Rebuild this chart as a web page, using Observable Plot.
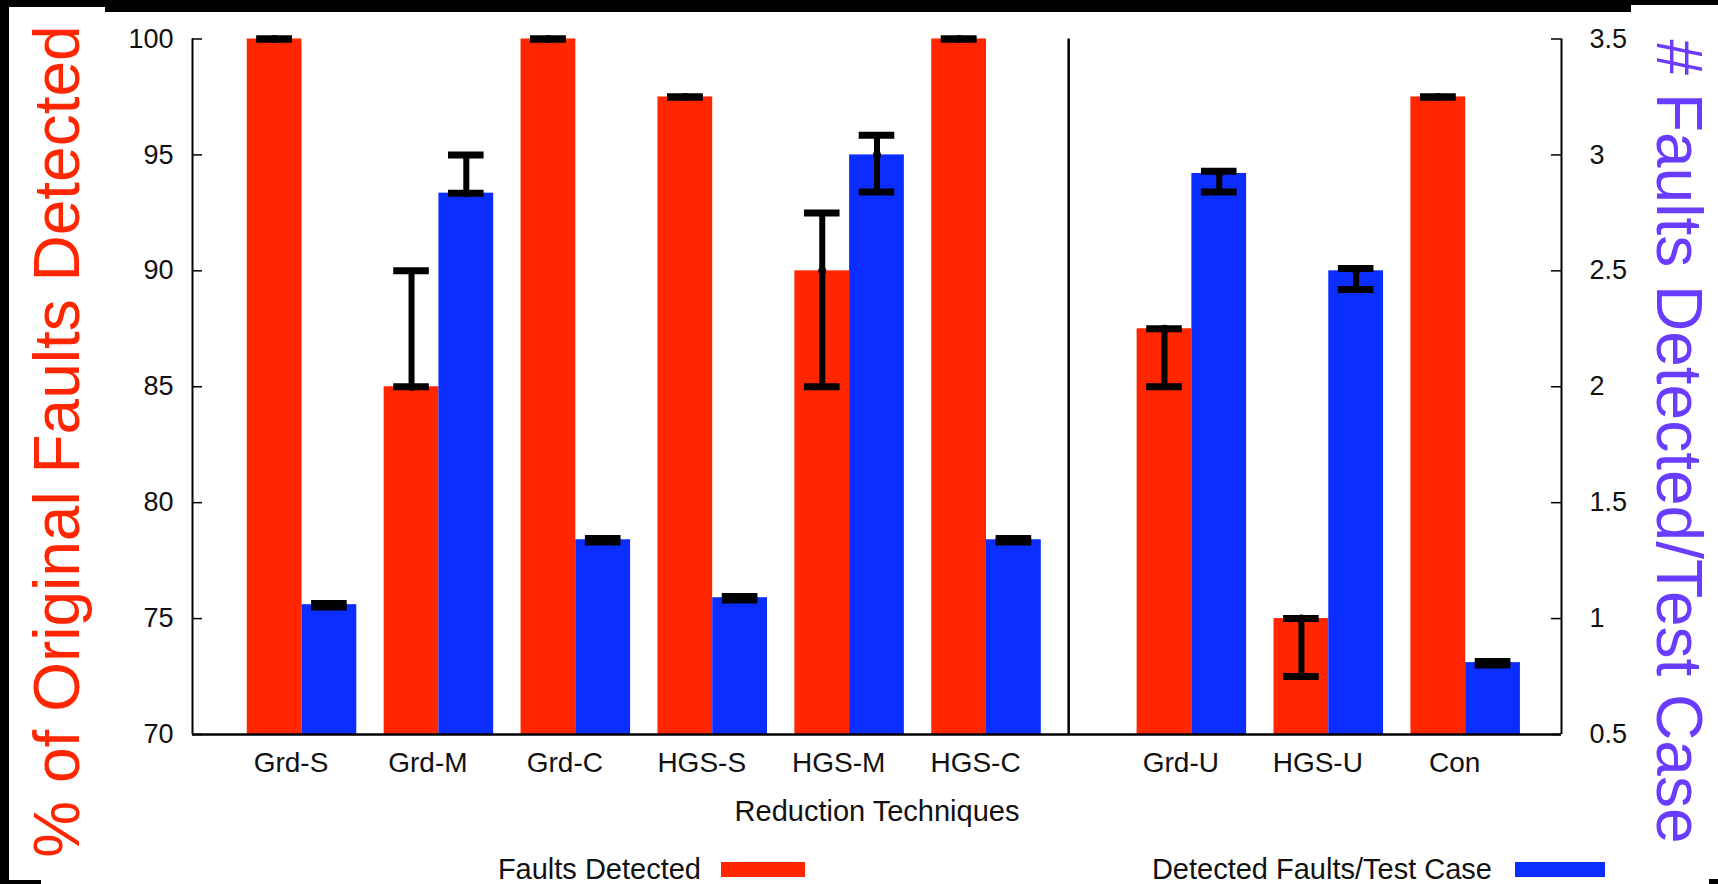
<!DOCTYPE html>
<html>
<head>
<meta charset="utf-8">
<script src="https://cdn.jsdelivr.net/npm/d3@7"></script>
<script src="https://cdn.jsdelivr.net/npm/@observablehq/plot@0.6"></script>
<style>
  body { margin: 0; background: #fff; }
  #wrap { position: relative; width: 1718px; height: 884px; overflow: hidden; background: #fff;
          font-family: "Liberation Sans", Arial, Helvetica, sans-serif; }
  #wrap svg { position: absolute; left: 0; top: 0; overflow: visible; }
  .blk { position: absolute; background: #000; z-index: 5; }
  .leg { position: absolute; font-size: 29px; line-height: 30px; color: #111; white-space: nowrap; }
  .sw { position: absolute; }
</style>
</head>
<body>
<div id="wrap"></div>
<script>
// ---------------- data ----------------
const techniques   = ["Grd-S", "Grd-M", "Grd-C", "HGS-S", "HGS-M", "HGS-C", "Grd-U", "HGS-U", "Con"];
const panel        = [1, 1, 1, 1, 1, 1, 2, 2, 2];
// % of original faults detected (left axis)
const faultsDetected = [100, 85, 100, 97.5, 90, 100, 87.5, 75, 97.5];
const faultsLow      = [100, 85, 100, 97.5, 85, 100, 85, 72.5, 97.5];
const faultsHigh     = [100, 90, 100, 97.5, 92.5, 100, 87.5, 75, 97.5];
// # faults detected / test case (right axis)
const perTest      = [1.06, 2.835, 1.34, 1.09, 3.0, 1.34, 2.92, 2.5, 0.81];
const perTestLow   = [1.05, 2.835, 1.33, 1.08, 2.84, 1.33, 2.84, 2.42, 0.80];
const perTestHigh  = [1.065, 3.0, 1.345, 1.095, 3.085, 1.345, 2.93, 2.51, 0.815];
const leftTicks  = [70, 75, 80, 85, 90, 95, 100];
const rightTicks = [0.5, 1, 1.5, 2, 2.5, 3, 3.5];
const xLabel = "Reduction Techniques";
const leftTitle = "% of Original Faults Detected";
const rightTitle = "# Faults Detected/Test Case";
const legendLabels = ["Faults Detected", "Detected Faults/Test Case"];

// ---------------- styling ----------------
const RED = "#ff2600", BLUE = "#0b2dff", PURPLE = "#6a3cff", INK = "#111";
const W = 1718, H = 884;
const mLeft = 192, mRight = W - 1561, mTop = 38.5, mBottom = H - 734;
const frameW = W - mLeft - mRight;
const barW = 0.4, capHalf = 0.13, separatorAt = 5.6;
const xDomain = [-0.8, 9.2];

// right-axis values mapped onto the left-axis scale
const toLeft = d3.scaleLinear().domain([rightTicks[0], rightTicks[rightTicks.length - 1]])
                               .range([leftTicks[0], leftTicks[leftTicks.length - 1]]);

const pos = techniques.map((t, i) => i + (panel[i] - 1) * 0.5);

const redRows = techniques.map((t, i) => ({
  t, x1: pos[i] - barW, x2: pos[i], cx: pos[i] - barW / 2,
  y: faultsDetected[i], low: faultsLow[i], high: faultsHigh[i]
}));
const blueRows = techniques.map((t, i) => ({
  t, x1: pos[i], x2: pos[i] + barW, cx: pos[i] + barW / 2,
  y: toLeft(perTest[i]), low: toLeft(perTestLow[i]), high: toLeft(perTestHigh[i])
}));
const allRows = redRows.concat(blueRows);
const posLabel = new Map(pos.map((p, i) => [p, techniques[i]]));
const rightLabel = new Map(rightTicks.map(v => [toLeft(v), String(v)]));
const midY = (mTop + 734) / 2;

const chart = Plot.plot({
  width: W, height: H,
  marginLeft: mLeft, marginRight: mRight, marginTop: mTop, marginBottom: mBottom,
  x: { domain: xDomain },
  y: { domain: [leftTicks[0], leftTicks[leftTicks.length - 1]] },
  style: { fontFamily: '"Liberation Sans", Arial, Helvetica, sans-serif', background: "transparent", color: INK },
  marks: [
    Plot.rect(redRows, { x1: "x1", x2: "x2", y1: leftTicks[0], y2: "y", fill: RED }),
    Plot.rect(blueRows, { x1: "x1", x2: "x2", y1: leftTicks[0], y2: "y", fill: BLUE }),
    // error bars
    Plot.ruleX(allRows, { x: "cx", y1: "low", y2: "high", stroke: "#000", strokeWidth: 6 }),
    Plot.ruleY(allRows, { y: "low", x1: d => d.cx - capHalf, x2: d => d.cx + capHalf, stroke: "#000", strokeWidth: 7 }),
    Plot.ruleY(allRows, { y: "high", x1: d => d.cx - capHalf, x2: d => d.cx + capHalf, stroke: "#000", strokeWidth: 7 }),
    Plot.dot(allRows, { x: "cx", y: "y", r: 4, fill: "#000" }),
    // border lines
    Plot.ruleX(xDomain, { stroke: "#000", strokeWidth: 2 }),
    Plot.ruleY([leftTicks[0]], { stroke: "#000", strokeWidth: 2.5 }),
    Plot.ruleX([separatorAt], { stroke: "#000", strokeWidth: 2.5 }),
    // inward tick marks
    Plot.ruleY(leftTicks, { insetRight: frameW - 10, stroke: "#000", strokeWidth: 1.5 }),
    Plot.ruleY(leftTicks, { insetLeft: frameW - 10, stroke: "#000", strokeWidth: 1.5 }),
    // axes
    Plot.axisY({ anchor: "left", ticks: leftTicks, tickSize: 0, tickPadding: 19, fontSize: 27, label: null, tickFormat: d => String(d) }),
    Plot.axisY({ anchor: "right", ticks: leftTicks, tickSize: 0, tickPadding: 28, fontSize: 27, label: null, tickFormat: d => rightLabel.get(d) }),
    Plot.axisX({ ticks: pos, tickSize: 0, tickPadding: 18, fontSize: 28, dx: -11, label: null, tickFormat: d => posLabel.get(d) }),
    Plot.text([xLabel], { text: d => d, frameAnchor: "bottom", dy: 77, fontSize: 29, lineAnchor: "middle", textAnchor: "middle", fill: INK }),
    // axis titles
    Plot.text([leftTitle], { text: d => d, frameAnchor: "left", rotate: -90, dx: 58 - mLeft, dy: 441 - midY,
                             fontSize: 64, lineAnchor: "middle", textAnchor: "middle", fill: RED }),
    Plot.text([rightTitle], { text: d => d, frameAnchor: "right", rotate: 90, dx: 1677 - (W - mRight), dy: 441 - midY,
                              fontSize: 64, lineAnchor: "middle", textAnchor: "middle", fill: PURPLE })
  ]
});

const wrap = document.getElementById("wrap");
wrap.appendChild(chart);

// legend (below the plot area)
function addLegendItem(label, color, textRight, swLeft, swRight) {
  const t = document.createElement("div");
  t.className = "leg";
  t.textContent = label;
  t.style.right = (W - textRight) + "px";
  t.style.top = (869 - 15) + "px";
  wrap.appendChild(t);
  const s = document.createElement("div");
  s.className = "sw";
  s.style.background = color;
  s.style.left = swLeft + "px";
  s.style.width = (swRight - swLeft) + "px";
  s.style.top = "862px";
  s.style.height = "15px";
  wrap.appendChild(s);
}
addLegendItem(legendLabels[0], RED, 701, 721, 805);
addLegendItem(legendLabels[1], BLUE, 1492, 1515, 1605);

// scanned-page black border fragments
[[0, 0, 1718, 5], [0, 0, 105, 7], [105, 0, 1526, 12], [0, 0, 9, 880], [0, 880, 41, 4], [1709, 879, 9, 5]]
  .forEach(([l, t, w, h]) => {
    const b = document.createElement("div");
    b.className = "blk";
    Object.assign(b.style, { left: l + "px", top: t + "px", width: w + "px", height: h + "px" });
    wrap.appendChild(b);
  });
</script>
</body>
</html>
